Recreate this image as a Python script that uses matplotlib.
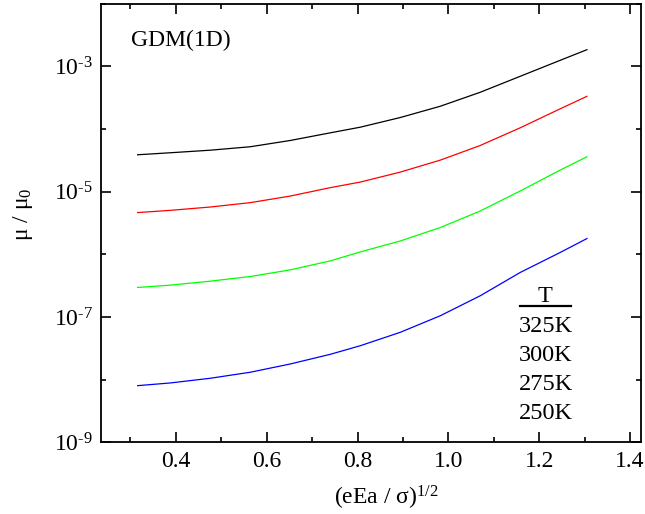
import matplotlib
matplotlib.use('Agg')
import matplotlib.pyplot as plt
import numpy as np
from matplotlib.ticker import FixedLocator, NullFormatter

plt.rcParams['font.family'] = ['Liberation Serif', 'DejaVu Serif']
plt.rcParams['mathtext.fontset'] = 'custom'
plt.rcParams['mathtext.rm'] = 'Liberation Serif'
plt.rcParams['mathtext.it'] = 'Liberation Serif:italic'

# (eEa/sigma)^1/2 values
field = [0.316, 0.388, 0.476, 0.564, 0.652, 0.740, 0.806,
         0.894, 0.982, 1.070, 1.158, 1.246, 1.305]

# log10(mu/mu0), one list per temperature
log_325 = [-4.411, -4.379, -4.338, -4.283, -4.183, -4.061, -3.971,
           -3.817, -3.637, -3.414, -3.159, -2.904, -2.734]
log_300 = [-5.334, -5.298, -5.245, -5.175, -5.070, -4.936, -4.847,
           -4.688, -4.497, -4.263, -3.981, -3.678, -3.478]
log_275 = [-6.529, -6.492, -6.428, -6.354, -6.248, -6.105, -5.962,
           -5.787, -5.573, -5.309, -4.990, -4.656, -4.443]
log_250 = [-8.096, -8.053, -7.978, -7.882, -7.750, -7.596, -7.459,
           -7.245, -6.981, -6.662, -6.290, -5.971, -5.748]

temps = ['325K', '300K', '275K', '250K']
colors = ['black', '#ff0000', '#00ff00', '#0000ff']

fig = plt.figure(figsize=(6.45, 5.14), dpi=100)
ax = fig.add_axes([0.157, 0.1395, 0.8368, 0.8533])

for vals, c in zip([log_325, log_300, log_275, log_250], colors):
    ax.plot(field, 10.0 ** np.array(vals), color=c, lw=0.9)

ax.set_yscale('log')
ax.set_xlim(0.236, 1.424)
ax.set_ylim(1e-9, 1e-2)

ax.yaxis.set_major_locator(FixedLocator([1e-9, 1e-7, 1e-5, 1e-3]))
ax.yaxis.set_minor_locator(FixedLocator([1e-8, 1e-6, 1e-4, 1e-2]))
ax.yaxis.set_minor_formatter(NullFormatter())
ax.set_yticklabels(['10$^{\\mathrm{\u2010%d}}$' % k for k in (9, 7, 5, 3)])
ax.xaxis.set_major_locator(FixedLocator([0.4, 0.6, 0.8, 1.0, 1.2, 1.4]))
ax.xaxis.set_minor_locator(FixedLocator([0.3, 0.5, 0.7, 0.9, 1.1, 1.3]))
ax.set_xticklabels(['0.4', '0.6', '0.8', '1.0', '1.2', '1.4'])

ax.tick_params(which='both', direction='in', top=True, right=True,
               labelsize=17, width=1.2)
ax.tick_params(which='major', length=7, pad=6)
ax.tick_params(which='minor', length=3.5)
for s in ax.spines.values():
    s.set_linewidth(1.3)

ax.set_xlabel('(eEa / σ)$^{\\mathrm{1/2}}$', fontsize=17)
ax.xaxis.set_label_coords(0.529, -0.095)
ax.set_ylabel('μ / μ$_{\\mathrm{0}}$', fontsize=17)
ax.yaxis.set_label_coords(-0.122, 0.52)

ax.text(130.7 / 645, 1 - 40.7 / 514, 'GDM(1D)', transform=fig.transFigure,
        fontsize=17, va='center', ha='left')

# temperature key
fig.text(545 / 645, 1 - 296 / 514, 'T', fontsize=17.5, ha='center', va='center')
fig.add_artist(plt.Line2D([520 / 645, 571 / 645], [1 - 306 / 514, 1 - 306 / 514],
                          color='black', lw=1.6, transform=fig.transFigure))
for i, t in enumerate(temps):
    fig.text(519 / 645, 1 - (326 + 29.1 * i) / 514, t, fontsize=17.5,
             ha='left', va='center')

fig.savefig('out.png', dpi=100)
